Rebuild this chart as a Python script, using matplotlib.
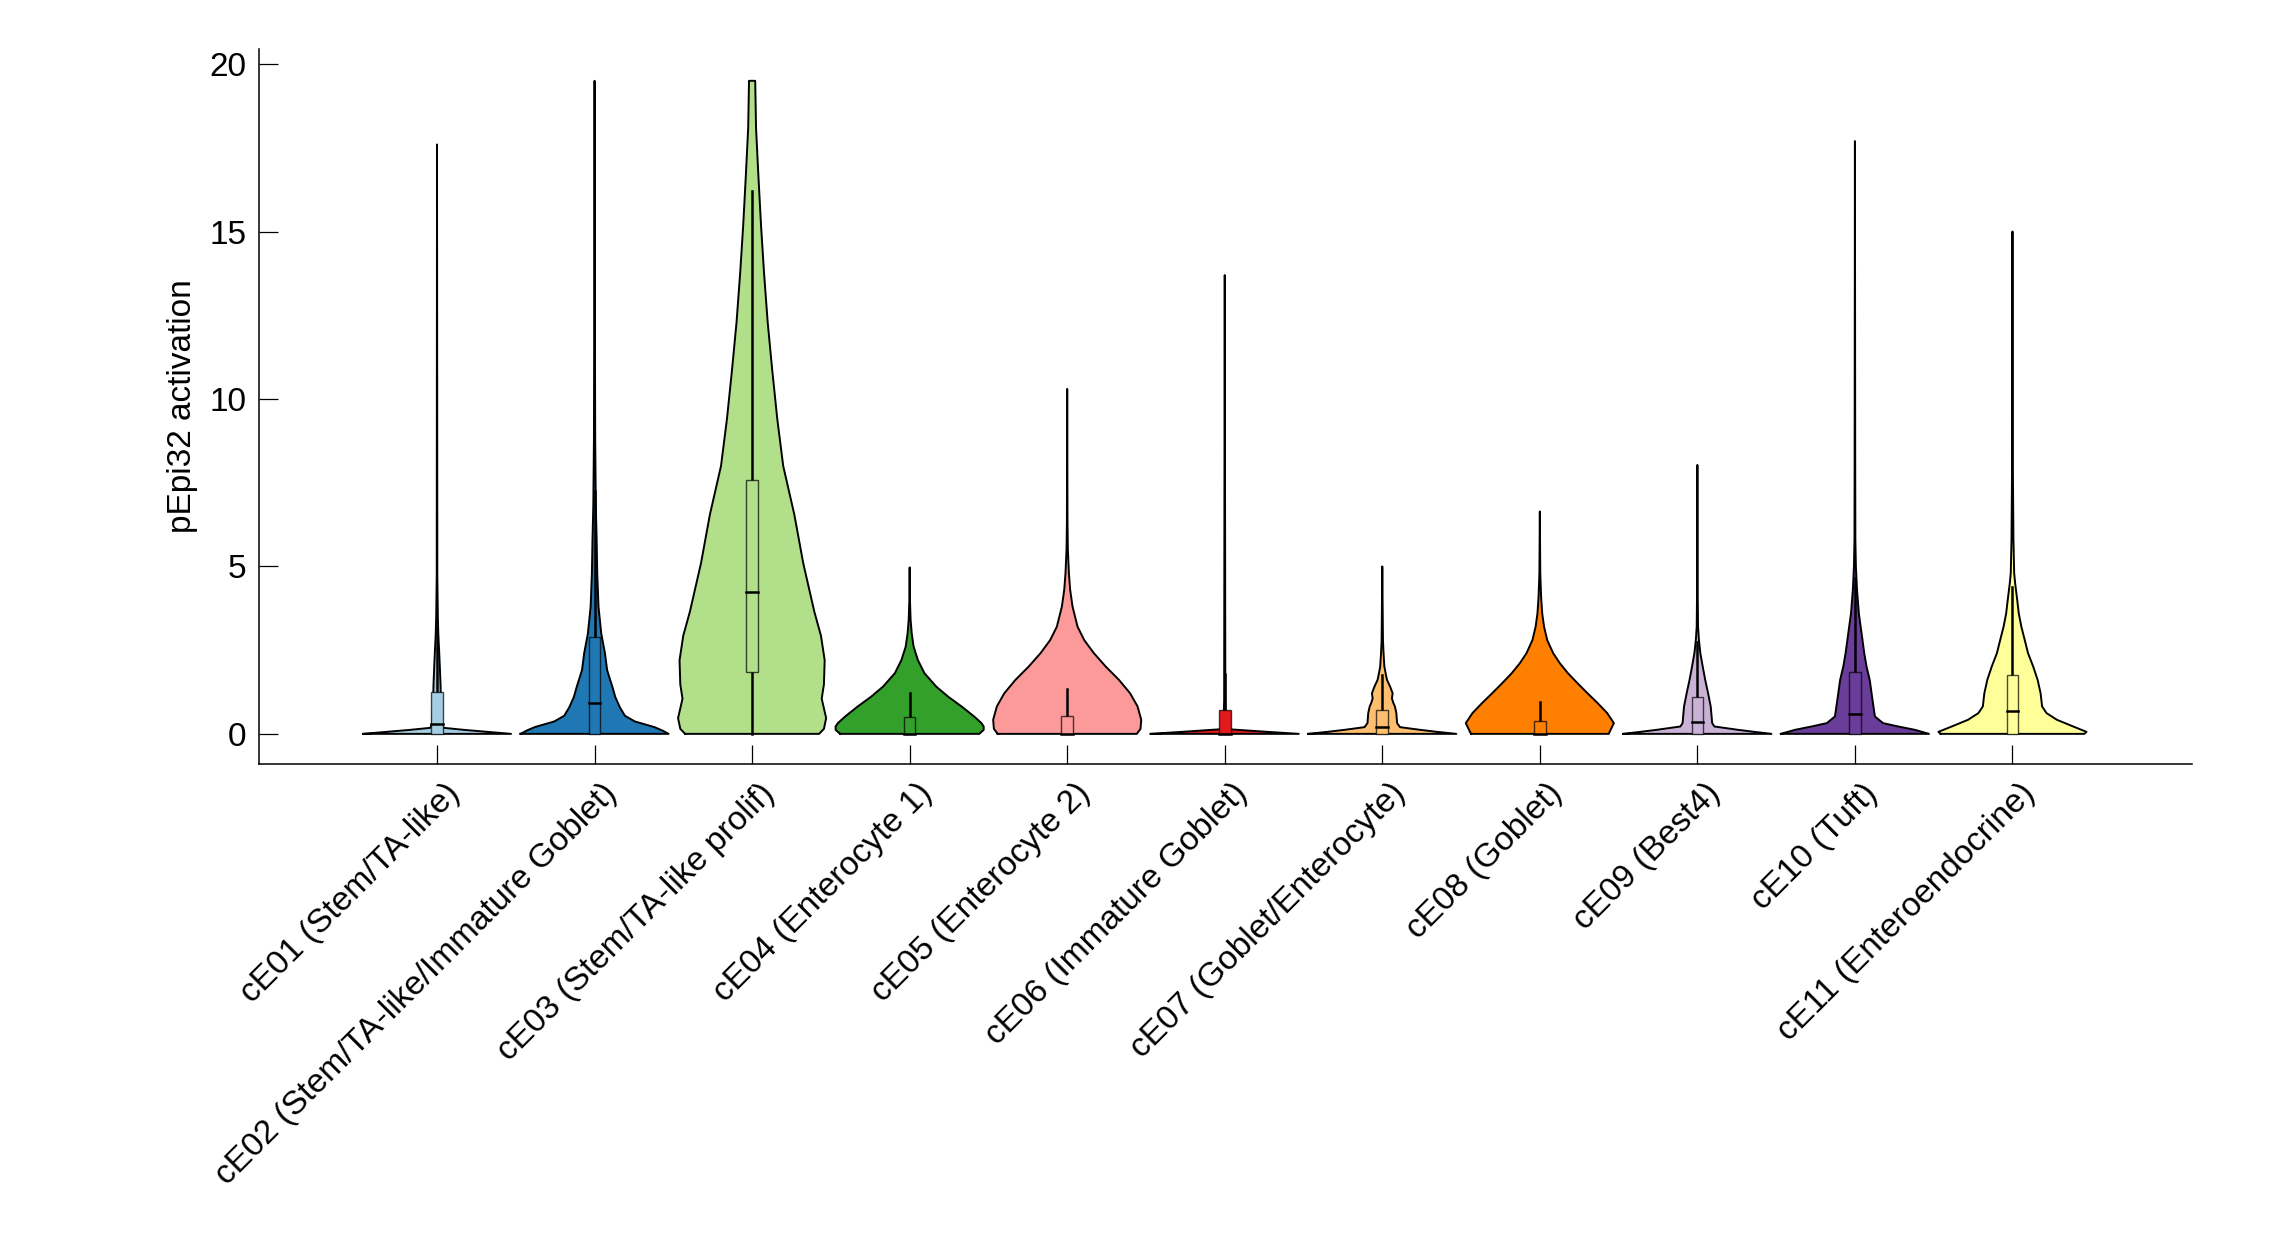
import numpy as np
import matplotlib
matplotlib.use('Agg')
import matplotlib.pyplot as plt
import matplotlib.transforms as mtransforms
from matplotlib.patches import Rectangle

plt.rcParams['font.family'] = ['Liberation Sans', 'DejaVu Sans']

#%% Data (per cluster).
clusters = ['cE01 (Stem/TA-like)', 'cE02 (Stem/TA-like/Immature Goblet)',
            'cE03 (Stem/TA-like prolif)', 'cE04 (Enterocyte 1)',
            'cE05 (Enterocyte 2)', 'cE06 (Immature Goblet)',
            'cE07 (Goblet/Enterocyte)', 'cE08 (Goblet)', 'cE09 (Best4)',
            'cE10 (Tuft)', 'cE11 (Enteroendocrine)']

colors = ['#a6cee3', '#1f78b4', '#b2df8a', '#33a02c', '#fb9a99', '#e31a1c',
          '#fdbf6f', '#ff7f00', '#cab2d6', '#6a3d9a', '#ffff99']

# density profile: activation levels and relative density (1 = widest)
levels = [
    [0, 0.06, 0.12, 0.18, 0.3, 1.0, 1.5, 2.0, 2.5, 3.0, 3.5, 4.7, 17.6],
    [0, 0.1, 0.2, 0.37, 0.54, 0.8, 1.1, 1.41, 1.9, 2.41, 3.0, 3.8, 4.8, 5.8,
     6.8, 8.8, 11.0, 13.0, 19.5],
    [0, 0.15, 0.47, 0.76, 1.05, 1.48, 2.2, 2.93, 3.65, 5.1, 6.55, 8.0, 9.4,
     10.9, 12.3, 13.8, 15.2, 16.7, 18.1, 19.5],
    [0, 0.12, 0.22, 0.32, 0.52, 0.82, 1.11, 1.41, 1.81, 2.21, 2.61, 3.0, 3.4,
     4.0, 4.97],
    [0, 0.15, 0.42, 0.82, 1.21, 1.61, 2.01, 2.41, 2.8, 3.2, 3.8, 4.3, 4.8, 5.5,
     6.3, 10.3],
    [0, 0.07, 0.14, 0.3, 1.0, 13.7],
    [0, 0.06, 0.12, 0.2, 0.32, 0.62, 0.82, 0.92, 1.06, 1.21, 1.41, 1.61, 1.81,
     2.01, 2.41, 2.8, 5.0],
    [0, 0.32, 0.62, 0.92, 1.21, 1.51, 1.81, 2.11, 2.41, 2.8, 3.2, 3.6, 4.1,
     4.8, 6.64],
    [0, 0.06, 0.12, 0.22, 0.32, 0.82, 1.21, 1.61, 2.01, 2.41, 2.8, 3.2, 4.3,
     8.03],
    [0, 0.12, 0.22, 0.32, 0.52, 0.82, 1.21, 1.61, 2.01, 2.41, 3.0, 3.6, 4.3,
     5.0, 5.8, 8.0, 17.7],
    [0, 0.06, 0.22, 0.42, 0.62, 0.82, 1.21, 1.61, 2.01, 2.41, 2.8, 3.2, 3.6,
     4.0, 4.5, 4.8, 5.8, 7.8, 15.0],
]
density = [
    [1, 0.68, 0.36, 0.09, 0.065, 0.053, 0.047, 0.038, 0.028, 0.017, 0.011,
     0.004, 0],
    [1, 0.915, 0.81, 0.545, 0.41, 0.34, 0.28, 0.24, 0.17, 0.14, 0.09, 0.053,
     0.036, 0.028, 0.017, 0.0085, 0.006, 0.004, 0],
    [0.905, 0.97, 1.0, 0.97, 0.94, 0.97, 0.98, 0.93, 0.84, 0.69, 0.57, 0.42,
     0.34, 0.27, 0.21, 0.16, 0.12, 0.084, 0.053, 0.042],
    [0.94, 1, 1, 0.97, 0.87, 0.70, 0.52, 0.36, 0.20, 0.11, 0.053, 0.028, 0.013,
     0.004, 0],
    [0.94, 0.99, 1, 0.95, 0.85, 0.70, 0.52, 0.36, 0.23, 0.14, 0.072, 0.04,
     0.023, 0.009, 0.004, 0],
    [1, 0.51, 0.04, 0.017, 0.008, 0],
    [1, 0.74, 0.51, 0.24, 0.2, 0.19, 0.17, 0.15, 0.13, 0.14, 0.106, 0.064,
     0.045, 0.028, 0.017, 0.009, 0],
    [0.93, 1, 0.91, 0.78, 0.645, 0.51, 0.38, 0.27, 0.18, 0.10, 0.057, 0.032,
     0.017, 0.006, 0],
    [1, 0.77, 0.55, 0.23, 0.2, 0.18, 0.145, 0.106, 0.072, 0.04, 0.021, 0.009,
     0.004, 0],
    [1, 0.81, 0.585, 0.38, 0.27, 0.25, 0.225, 0.2, 0.157, 0.126, 0.09, 0.053,
     0.028, 0.013, 0.006, 0.004, 0],
    [0.97, 1.0, 0.82, 0.6, 0.46, 0.40, 0.38, 0.34, 0.28, 0.21, 0.166, 0.12,
     0.085, 0.064, 0.036, 0.023, 0.013, 0.006, 0],
]

# box plot stats
q1 = [0, 0, 1.84, 0, 0, 0, 0, 0, 0, 0, 0]
median = [0.3, 0.92, 4.23, 0.0, 0.0, 0.0, 0.2, 0.0, 0.36, 0.6, 0.67]
q3 = [1.26, 2.9, 7.58, 0.49, 0.54, 0.72, 0.70, 0.37, 1.09, 1.86, 1.76]
whisk_lo = [0, 0, 0, 0, 0, 0, 0, 0, 0, 0, 0]
whisk_hi = [3.15, 7.25, 16.2, 1.21, 1.33, 1.8, 1.75, 0.95, 2.73, 4.65, 4.4]

#%% Plot.
fig = plt.figure(figsize=(22.92, 12.5), dpi=100)
ax = fig.add_axes([0.1130, 0.3888, 0.8434, 0.5720])

half = 0.47
box_half = 0.037
for i in range(len(clusters)):
    x = i + 1
    y = np.array(levels[i])
    w = np.array(density[i]) * half
    ax.fill_betweenx(y, x - w, x + w, facecolor=colors[i], edgecolor='none',
                     zorder=2)
    ax.plot(np.concatenate((x - w, (x + w)[::-1], [x - w[0]])),
            np.concatenate((y, y[::-1], [y[0]])),
            c='k', lw=1.4, zorder=3, solid_joinstyle='round')

    ax.plot([x, x], [q3[i], whisk_hi[i]], c='k', lw=1.8, zorder=4)
    ax.plot([x, x], [whisk_lo[i], q1[i]], c='k', lw=1.8, zorder=4)
    ax.add_patch(Rectangle((x - box_half, q1[i]), 2 * box_half, q3[i] - q1[i],
                           facecolor=colors[i], edgecolor=(0, 0, 0, 0.7),
                           lw=1.0, zorder=5))
    ax.plot([x - box_half, x + box_half], [median[i], median[i]], c='k',
            lw=1.8, zorder=6)

ax.set_xlim(-0.13, 12.14)
ax.set_ylim(-0.9, 20.45)
ax.set_yticks([0, 5, 10, 15, 20])
ax.set_xticks(np.arange(1, len(clusters) + 1))
ax.set_xticklabels(clusters, rotation=45, ha='right', va='top',
                   rotation_mode='anchor')
ax.set_ylabel('pEpi32 activation', fontsize=24, labelpad=8)

ax.tick_params(axis='both', direction='in', length=13.5, width=0.9,
               labelsize=24, color='k')
ax.tick_params(axis='y', pad=9)
ax.tick_params(axis='x', pad=10)
shift = mtransforms.ScaledTranslation(5 / 72, 0, fig.dpi_scale_trans)
for lab in ax.get_xticklabels():
    lab.set_transform(lab.get_transform() + shift)
for s in ['top', 'right']:
    ax.spines[s].set_visible(False)
for s in ['left', 'bottom']:
    ax.spines[s].set_linewidth(1.1)

fig.savefig('out.png', dpi=100)
